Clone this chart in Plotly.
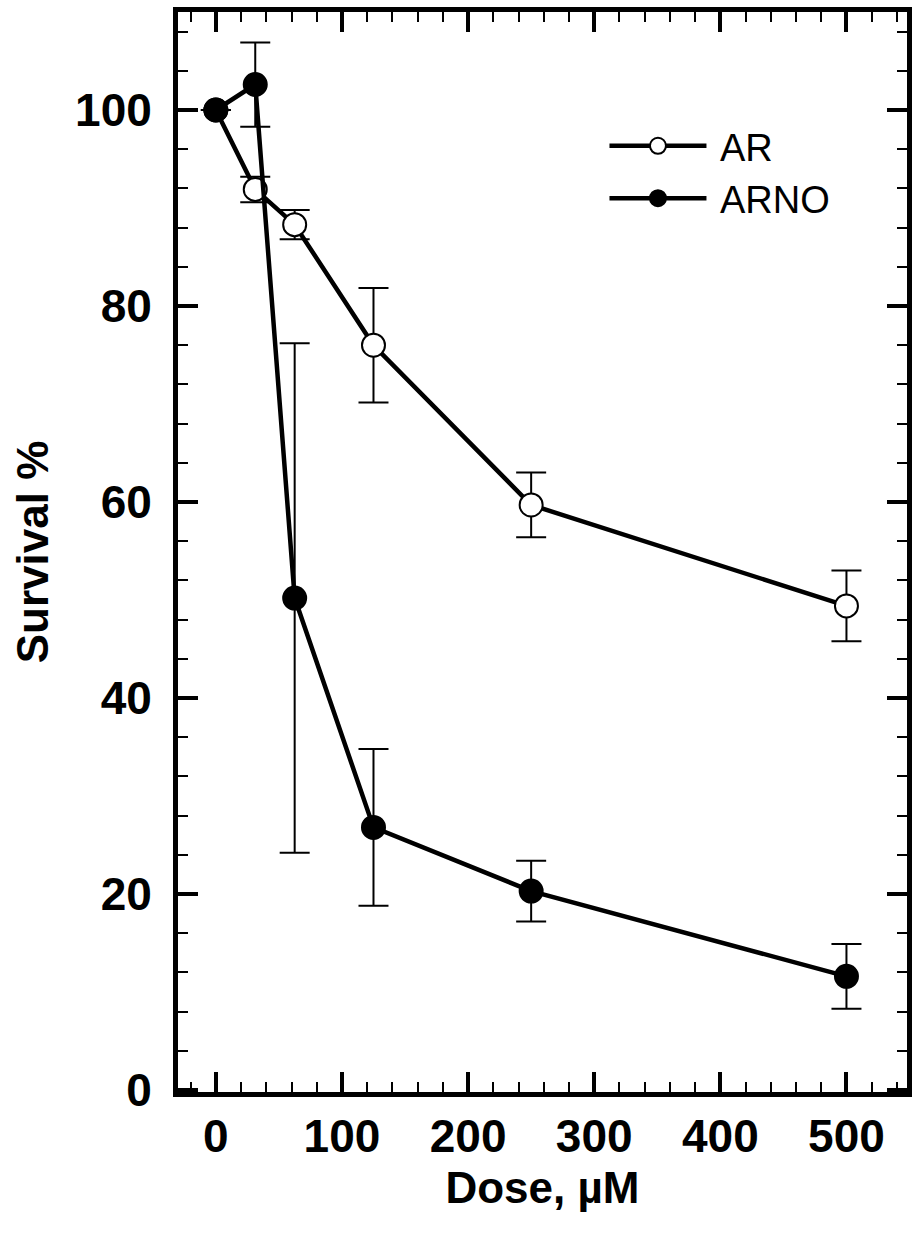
import plotly.graph_objects as go

# Dose (µM) and survival (%) with error bars
dose = [0, 31.25, 62.5, 125, 250, 500]
ar_survival = [100, 91.9, 88.3, 76.0, 59.7, 49.4]
ar_err = [None, 1.3, 1.5, 5.85, 3.3, 3.6]
arno_survival = [100, 102.6, 50.2, 26.8, 20.3, 11.6]
arno_err = [None, 4.3, 26.0, 8.0, 3.1, 3.3]

FONT = "Liberation Sans, Arial, sans-serif"

fig = go.Figure()
fig.add_trace(go.Scatter(
    x=dose, y=ar_survival, name=" AR", mode="lines+markers",
    line=dict(color="black", width=4.5),
    marker=dict(symbol="circle", size=23, color="white",
                line=dict(color="black", width=2)),
    error_y=dict(type="data", array=ar_err, visible=True,
                 color="black", thickness=2, width=15),
))
fig.add_trace(go.Scatter(
    x=dose, y=arno_survival, name=" ARNO", mode="lines+markers",
    line=dict(color="black", width=4.5),
    marker=dict(symbol="circle", size=23, color="black",
                line=dict(color="black", width=2)),
    error_y=dict(type="data", array=arno_err, visible=True,
                 color="black", thickness=2, width=15),
))

axis_common = dict(
    showline=True, linecolor="black", linewidth=5, mirror="ticks",
    ticks="inside", ticklen=20, tickwidth=4, tickcolor="black",
    showgrid=False, zeroline=False,
    tickfont=dict(family=FONT, size=46, color="black", weight="bold"),
)

fig.update_xaxes(
    range=[-30, 548], tickmode="linear", tick0=0, dtick=100,
    minor=dict(ticks="inside", dtick=20, tick0=0, ticklen=10,
               tickwidth=2, tickcolor="black", showgrid=False),
    ticklabelstandoff=0,
    title=dict(text="Dose, µM", standoff=12,
               font=dict(family=FONT, size=44, color="black", weight="bold")),
    **axis_common,
)
fig.update_yaxes(
    range=[-0.2, 110], tickmode="linear", tick0=0, dtick=20,
    minor=dict(ticks="inside", dtick=4, tick0=0, ticklen=10,
               tickwidth=2, tickcolor="black", showgrid=False),
    ticklabelstandoff=12,
    title=dict(text="Survival %", standoff=14,
               font=dict(family=FONT, size=44, color="black", weight="bold")),
    **axis_common,
)

fig.update_layout(
    width=914, height=1247,
    margin=dict(l=178, r=2, t=12, b=155),
    paper_bgcolor="white", plot_bgcolor="white",
    showlegend=True,
    legend=dict(
        x=0.585, y=0.905, xanchor="left", yanchor="top",
        bgcolor="rgba(0,0,0,0)", borderwidth=0,
        font=dict(family=FONT, size=38, color="black"),
        itemwidth=97,
    ),
)

fig.write_html("out.html")
